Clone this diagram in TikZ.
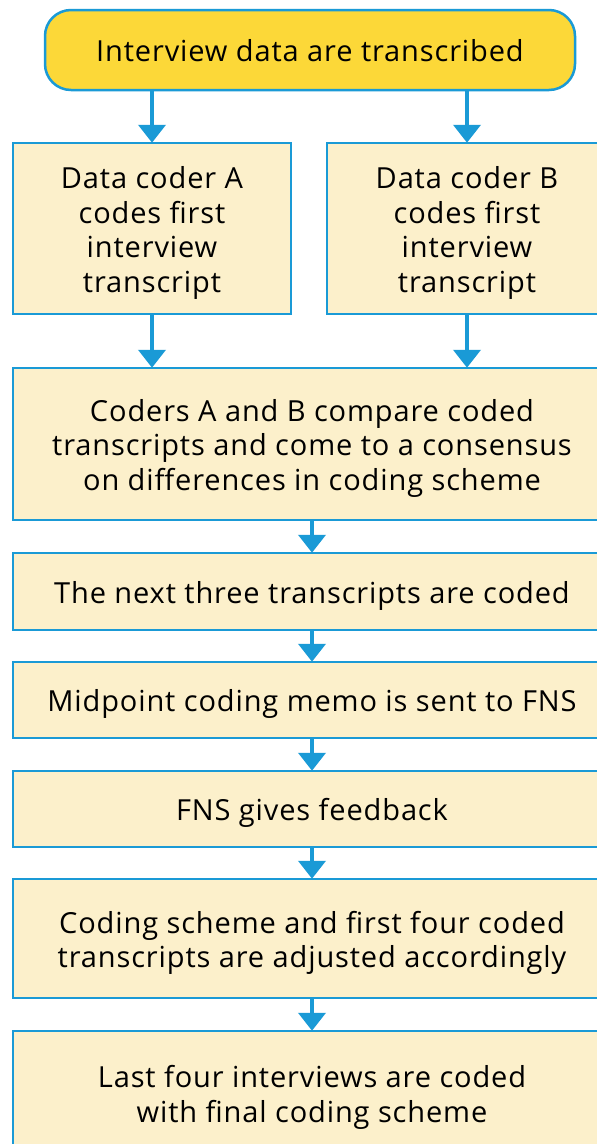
\documentclass[tikz,border=0pt]{standalone}
\usepackage{fontspec}
\setmainfont{Open Sans}[LetterSpace=3]
\usetikzlibrary{arrows.meta}
\definecolor{flowblue}{HTML}{1A9AD6}
\definecolor{paleyellow}{HTML}{FCF0CB}
\definecolor{startyellow}{HTML}{FCD838}
% centred lines of a step, set a little below the box centre
\newcommand{\steptext}[1]{\raisebox{-5pt}[\height][\depth]{\begin{tabular}{@{}c@{}}#1\end{tabular}}}
\tikzset{
  stepbox/.style={draw=flowblue, line width=2.5pt, fill=paleyellow, rectangle,
    inner sep=0pt, font=\fontsize{29}{34.5}\selectfont},
  startbox/.style={stepbox, fill=startyellow, rounded corners=26pt},
  flowarrow/.style={draw=flowblue, line width=4pt,
    -{Triangle[width=27pt,length=18pt]}, shorten >=-1pt},
}
\begin{document}
\begin{tikzpicture}[x=1pt,y=-1pt]
\useasboundingbox (0,0) rectangle (597,1144);
\clip (0,0) rectangle (597,1144);
\fill[white] (0,0) rectangle (597,1144);

\node[startbox, minimum width=530pt, minimum height=80pt] (start) at (310,50)
  {\steptext{Interview data are transcribed}};

\node[stepbox, minimum width=278pt, minimum height=171pt] (coderA) at (152,228.5)
  {\steptext{Data coder A\\codes first\\interview\\transcript}};
\node[stepbox, minimum width=280pt, minimum height=171pt] (coderB) at (467,228.5)
  {\steptext{Data coder B\\codes first\\interview\\transcript}};

\node[stepbox, minimum width=598pt, minimum height=152pt] (compare) at (312,444)
  {\steptext{Coders A and B compare coded\\transcripts and come to a consensus\\on differences in coding scheme}};
\node[stepbox, minimum width=598pt, minimum height=77pt] (next) at (312,591.5)
  {\steptext{The next three transcripts are coded}};
\node[stepbox, minimum width=598pt, minimum height=76pt] (memo) at (312,700)
  {\steptext{Midpoint coding memo is sent to FNS}};
\node[stepbox, minimum width=598pt, minimum height=76pt] (feedback) at (312,809)
  {\steptext{FNS gives feedback}};
\node[stepbox, minimum width=598pt, minimum height=119pt] (adjust) at (312,938.5)
  {\steptext{Coding scheme and first four coded\\transcripts are adjusted accordingly}};
\node[stepbox, minimum width=598pt, minimum height=124pt] (last) at (312,1093)
  {\steptext{Last four interviews are coded\\with final coding scheme}};

% branch into the two coders, then back together
\draw[flowarrow] (start.south -| coderA.north) -- (coderA.north);
\draw[flowarrow] (start.south -| coderB.north) -- (coderB.north);
\draw[flowarrow] (coderA.south) -- (coderA.south |- compare.north);
\draw[flowarrow] (coderB.south) -- (coderB.south |- compare.north);

% single column sequence
\draw[flowarrow] (compare.south) -- (next.north);
\draw[flowarrow] (next.south) -- (memo.north);
\draw[flowarrow] (memo.south) -- (feedback.north);
\draw[flowarrow] (feedback.south) -- (adjust.north);
\draw[flowarrow] (adjust.south) -- (last.north);
\end{tikzpicture}
\end{document}
